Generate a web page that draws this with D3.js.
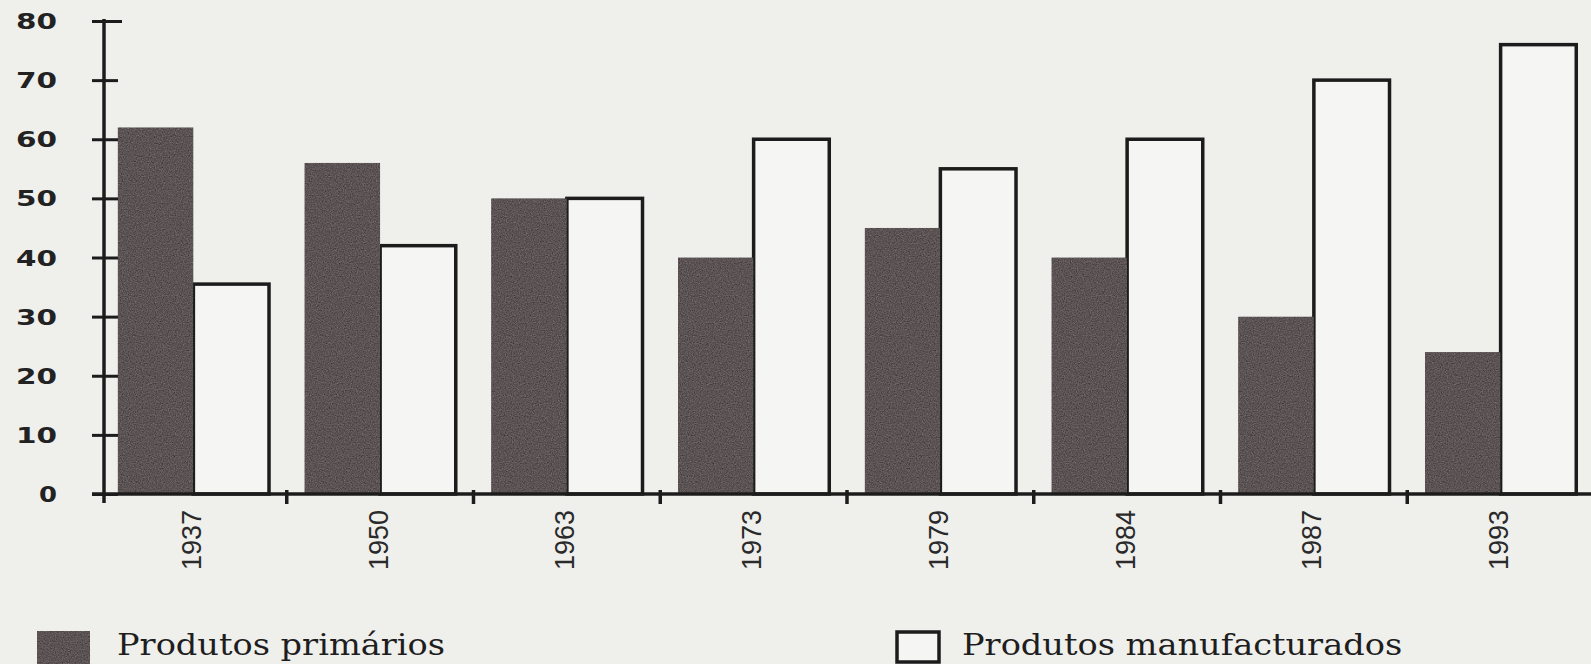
<!DOCTYPE html>
<html>
<head>
<meta charset="utf-8">
<script src="https://cdn.jsdelivr.net/npm/d3@7"></script>
<style>
  body { margin: 0; background: #efefec; }
  svg { display: block; }
</style>
</head>
<body>
<div id="chart"></div>
<script>
const years = ['1937', '1950', '1963', '1973', '1979', '1984', '1987', '1993'];
const primarios = [62, 56, 50, 40, 45, 40, 30, 24];
const manufacturados = [35.5, 42, 50, 60, 55, 60, 70, 76];
const yTicks = [0, 10, 20, 30, 40, 50, 60, 70, 80];
const seriesNames = ['Produtos primários', 'Produtos manufacturados'];

const width = 1591;
const height = 664;

const data = years.map((y, i) => ({ year: y, prim: primarios[i], manuf: manufacturados[i] }));

const svg = d3.select('#chart')
  .append('svg')
  .attr('width', width)
  .attr('height', height);

// grainy photocopy texture for the dark bars
const defs = svg.append('defs');
const grain = defs.append('filter').attr('id', 'grain')
  .attr('color-interpolation-filters', 'sRGB')
  .attr('x', 0).attr('y', 0).attr('width', 1).attr('height', 1);
grain.append('feTurbulence')
  .attr('type', 'fractalNoise')
  .attr('baseFrequency', 0.85)
  .attr('numOctaves', 2)
  .attr('seed', 4)
  .attr('result', 'noise');
grain.append('feColorMatrix')
  .attr('in', 'noise')
  .attr('type', 'matrix')
  .attr('values', '0.33 0.33 0.33 0 0  0.33 0.33 0.33 0 0  0.33 0.33 0.33 0 0  0 0 0 0 1')
  .attr('result', 'grey');
grain.append('feComposite')
  .attr('in', 'SourceGraphic')
  .attr('in2', 'grey')
  .attr('operator', 'arithmetic')
  .attr('k1', 0).attr('k2', 1).attr('k3', 0.5).attr('k4', -0.25)
  .attr('result', 'mix');
grain.append('feComposite')
  .attr('in', 'mix')
  .attr('in2', 'SourceGraphic')
  .attr('operator', 'in');

const x0 = d3.scaleBand()
  .domain(years)
  .range([100, 1594])
  .paddingInner(0.19)
  .paddingOuter(0.095);

const x1 = d3.scaleBand()
  .domain(['prim', 'manuf'])
  .range([0, x0.bandwidth()]);

const y = d3.scaleLinear()
  .domain([0, 80])
  .range([494, 21]);

const groups = svg.append('g')
  .selectAll('g')
  .data(data)
  .enter()
  .append('g')
  .attr('transform', d => `translate(${x0(d.year)}, 0)`);

// open bars (manufactured)
groups.append('rect')
  .attr('x', x1('manuf'))
  .attr('y', d => y(d.manuf))
  .attr('width', x1.bandwidth())
  .attr('height', d => y(0) - y(d.manuf))
  .style('fill', '#f5f5f3')
  .style('stroke', '#1c1c1c')
  .style('stroke-width', 3.5);

// dark bars (primary)
groups.append('rect')
  .attr('x', x1('prim'))
  .attr('y', d => y(d.prim))
  .attr('width', x1.bandwidth())
  .attr('height', d => y(0) - y(d.prim))
  .style('fill', '#5c5454')
  .attr('filter', 'url(#grain)');

// y axis
const yAxis = d3.axisLeft(y)
  .tickValues(yTicks)
  .tickSize(-14)
  .tickSizeOuter(0)
  .tickPadding(47);

const yg = svg.append('g')
  .attr('transform', 'translate(104, 0)')
  .call(yAxis);

yg.select('.domain').remove();
yg.selectAll('.tick line')
  .attr('x1', -12)
  .attr('x2', d => d === 80 ? 18 : 14)
  .style('stroke', '#1c1c1c')
  .style('stroke-width', 3);
yg.selectAll('.tick text')
  .attr('fill', '#222')
  .attr('dy', '0.36em')
  .style('font-family', '"DejaVu Sans", sans-serif')
  .style('font-weight', 'bold')
  .style('font-size', '21px')
  .attr('textLength', d => String(d).length === 1 ? 18 : 41)
  .attr('lengthAdjust', 'spacingAndGlyphs');

yg.append('line')
  .attr('x1', 0).attr('x2', 0)
  .attr('y1', y(80) - 2)
  .attr('y2', y(0) + 9)
  .style('stroke', '#1c1c1c')
  .style('stroke-width', 3.5);

// x axis: labels at the centre of each group, marks between groups
const xAxis = d3.axisBottom(x0).tickSize(0).tickSizeOuter(0);

const xg = svg.append('g')
  .attr('transform', `translate(0, ${y(0)})`)
  .call(xAxis);

xg.select('.domain').remove();
xg.selectAll('.tick text')
  .attr('transform', 'rotate(-90)')
  .attr('x', -16)
  .attr('y', -2)
  .attr('dy', '0.35em')
  .style('text-anchor', 'end')
  .style('font-family', '"Liberation Sans", Arial, sans-serif')
  .style('font-size', '27px')
  .attr('fill', '#2a2a2a');

xg.append('line')
  .attr('x1', 92)
  .attr('x2', width)
  .attr('y1', 0)
  .attr('y2', 0)
  .style('stroke', '#1c1c1c')
  .style('stroke-width', 3.5);

xg.selectAll('.sep')
  .data(years.slice(1))
  .enter()
  .append('line')
  .attr('class', 'sep')
  .attr('x1', d => x0(d) - x0.step() * x0.paddingInner() / 2)
  .attr('x2', d => x0(d) - x0.step() * x0.paddingInner() / 2)
  .attr('y1', -4)
  .attr('y2', 10)
  .style('stroke', '#1c1c1c')
  .style('stroke-width', 3.5);

// legend
const legend = svg.append('g');

legend.append('rect')
  .attr('x', 37).attr('y', 631)
  .attr('width', 53).attr('height', 40)
  .style('fill', '#5c5454')
  .attr('filter', 'url(#grain)');

legend.append('rect')
  .attr('x', 897).attr('y', 632)
  .attr('width', 42).attr('height', 30)
  .style('fill', '#f5f5f3')
  .style('stroke', '#1c1c1c')
  .style('stroke-width', 3.5);

const labels = legend.selectAll('text.lg')
  .data(seriesNames)
  .enter()
  .append('text')
  .attr('class', 'lg')
  .attr('x', (d, i) => i === 0 ? 117 : 962)
  .attr('y', 655)
  .style('font-family', '"DejaVu Serif", "Liberation Serif", serif')
  .style('font-size', '29px')
  .attr('fill', '#1e1e1e')
  .text(d => d);

// stretch both legend labels by the same factor so the first spans its width in the scan
const firstLen = labels.nodes()[0].getComputedTextLength();
const k = 328 / firstLen;
labels.each(function () {
  const len = this.getComputedTextLength();
  d3.select(this)
    .attr('textLength', len * k)
    .attr('lengthAdjust', 'spacingAndGlyphs');
});
</script>
</body>
</html>
